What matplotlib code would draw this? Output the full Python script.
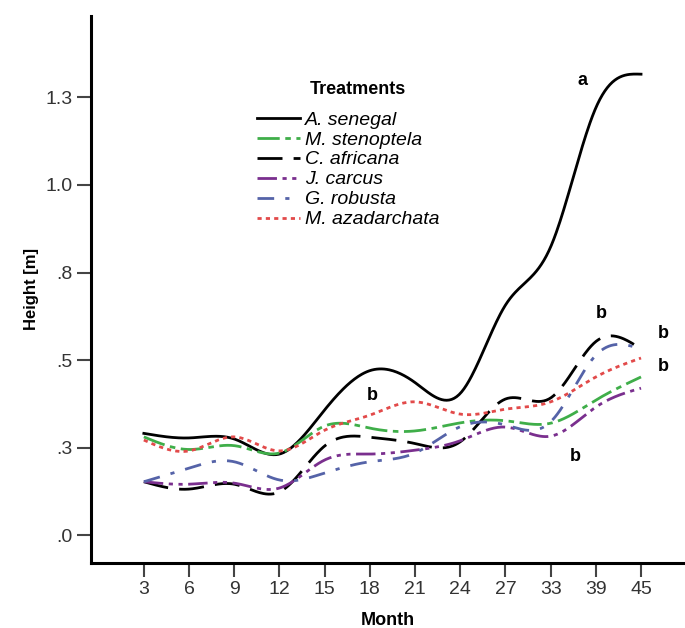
import numpy as np
import matplotlib
matplotlib.use("Agg")
import matplotlib.pyplot as plt

plt.rcParams['font.family'] = ['Liberation Sans', 'DejaVu Sans']

months = ['3', '6', '9', '12', '15', '18', '21', '24', '27', '33', '39', '45']

senegal = [0.291, 0.278, 0.275, 0.232, 0.358, 0.470, 0.436, 0.405, 0.657, 0.823, 1.220, 1.316]
stenoptela = [0.281, 0.245, 0.256, 0.235, 0.312, 0.306, 0.298, 0.321, 0.327, 0.320, 0.386, 0.452]
africana = [0.153, 0.132, 0.146, 0.124, 0.255, 0.280, 0.262, 0.267, 0.389, 0.392, 0.553, 0.532]
carcus = [0.153, 0.146, 0.149, 0.135, 0.215, 0.232, 0.243, 0.270, 0.309, 0.283, 0.366, 0.420]
robusta = [0.153, 0.192, 0.210, 0.158, 0.178, 0.210, 0.235, 0.310, 0.315, 0.324, 0.514, 0.532]
azadarchata = [0.272, 0.241, 0.281, 0.241, 0.300, 0.343, 0.381, 0.346, 0.360, 0.381, 0.452, 0.506]

names = ['A. senegal', 'M. stenoptela', 'C. africana', 'J. carcus', 'G. robusta', 'M. azadarchata']
colors = ['black', '#3fae49', 'black', '#7a2f8e', '#5563a8', '#e24a4a']
styles = ['-', (0, (8, 2, 2, 2)), (0, (9, 4)), (0, (7, 2, 1.5, 2, 1.5, 2)), (0, (6, 4, 1.5, 4)), (0, (1.5, 1.5))]

# significance letters: (text, x index, y)
letters = [('a', 9.71, 1.297), ('b', 5.06, 0.400), ('b', 10.13, 0.634),
           ('b', 11.49, 0.576), ('b', 11.49, 0.483), ('b', 9.54, 0.224)]


def spline(x, y, n=400):
    # natural cubic spline, just for drawing smooth curves
    x = np.asarray(x, float)
    y = np.asarray(y, float)
    k = len(x)
    h = np.diff(x)
    A = np.zeros((k, k))
    r = np.zeros(k)
    A[0, 0] = A[-1, -1] = 1
    for i in range(1, k - 1):
        A[i, i - 1] = h[i - 1]
        A[i, i] = 2 * (h[i - 1] + h[i])
        A[i, i + 1] = h[i]
        r[i] = 3 * ((y[i + 1] - y[i]) / h[i] - (y[i] - y[i - 1]) / h[i - 1])
    c = np.linalg.solve(A, r)
    xs = np.linspace(x[0], x[-1], n)
    idx = np.clip(np.searchsorted(x, xs) - 1, 0, k - 2)
    dx = xs - x[idx]
    hi = h[idx]
    b = (y[idx + 1] - y[idx]) / hi - hi * (2 * c[idx] + c[idx + 1]) / 3
    d = (c[idx + 1] - c[idx]) / (3 * hi)
    return xs, y[idx] + b * dx + c[idx] * dx ** 2 + d * dx ** 3


fig = plt.figure(figsize=(6.85, 6.28), dpi=100)
ax = fig.add_axes([0.1328, 0.104, 0.867, 0.8705])

xpos = np.arange(len(months))
series = [senegal, stenoptela, africana, carcus, robusta, azadarchata]
for vals, name, col, ls in zip(series, names, colors, styles):
    xs, ys = spline(xpos, vals)
    ax.plot(xs, ys, color=col, linestyle=ls, linewidth=2, label=name)

for txt, lx, ly in letters:
    ax.text(lx, ly, txt, fontsize=13, fontweight='bold', ha='center', va='center')

ax.set_xlim(-1.17, 11.97)
ax.set_ylim(-0.078, 1.482)
ax.set_xticks(xpos)
ax.set_xticklabels(months)
yt = [0, 0.25, 0.5, 0.75, 1.0, 1.25]
ax.set_yticks(yt)
ax.set_yticklabels(['.0', '.3', '.5', '.8', '1.0', '1.3'])
ax.tick_params(labelsize=14, length=10, width=1.5, colors='#444444', labelcolor='#333333', pad=3)

for s in ['top', 'right']:
    ax.spines[s].set_visible(False)
for s in ['left', 'bottom']:
    ax.spines[s].set_linewidth(2.2)

ax.set_xlabel('Month', fontsize=13, fontweight='bold', labelpad=10)
ax.set_ylabel('Height [m]', fontsize=12, fontweight='bold', labelpad=5)

fig.text(358 / 685, 1 - 90 / 628, 'Treatments', fontsize=13, fontweight='bold',
         ha='center', va='center')
leg = ax.legend(loc='upper left', bbox_to_anchor=(257 / 685, 1 - 111 / 628),
                bbox_transform=fig.transFigure, frameon=False, fontsize=14,
                handlelength=2.2, handletextpad=0.25, labelspacing=0.12,
                borderpad=0, borderaxespad=0)
for t in leg.get_texts():
    t.set_fontstyle('italic')

fig.savefig('out.png', dpi=100)
